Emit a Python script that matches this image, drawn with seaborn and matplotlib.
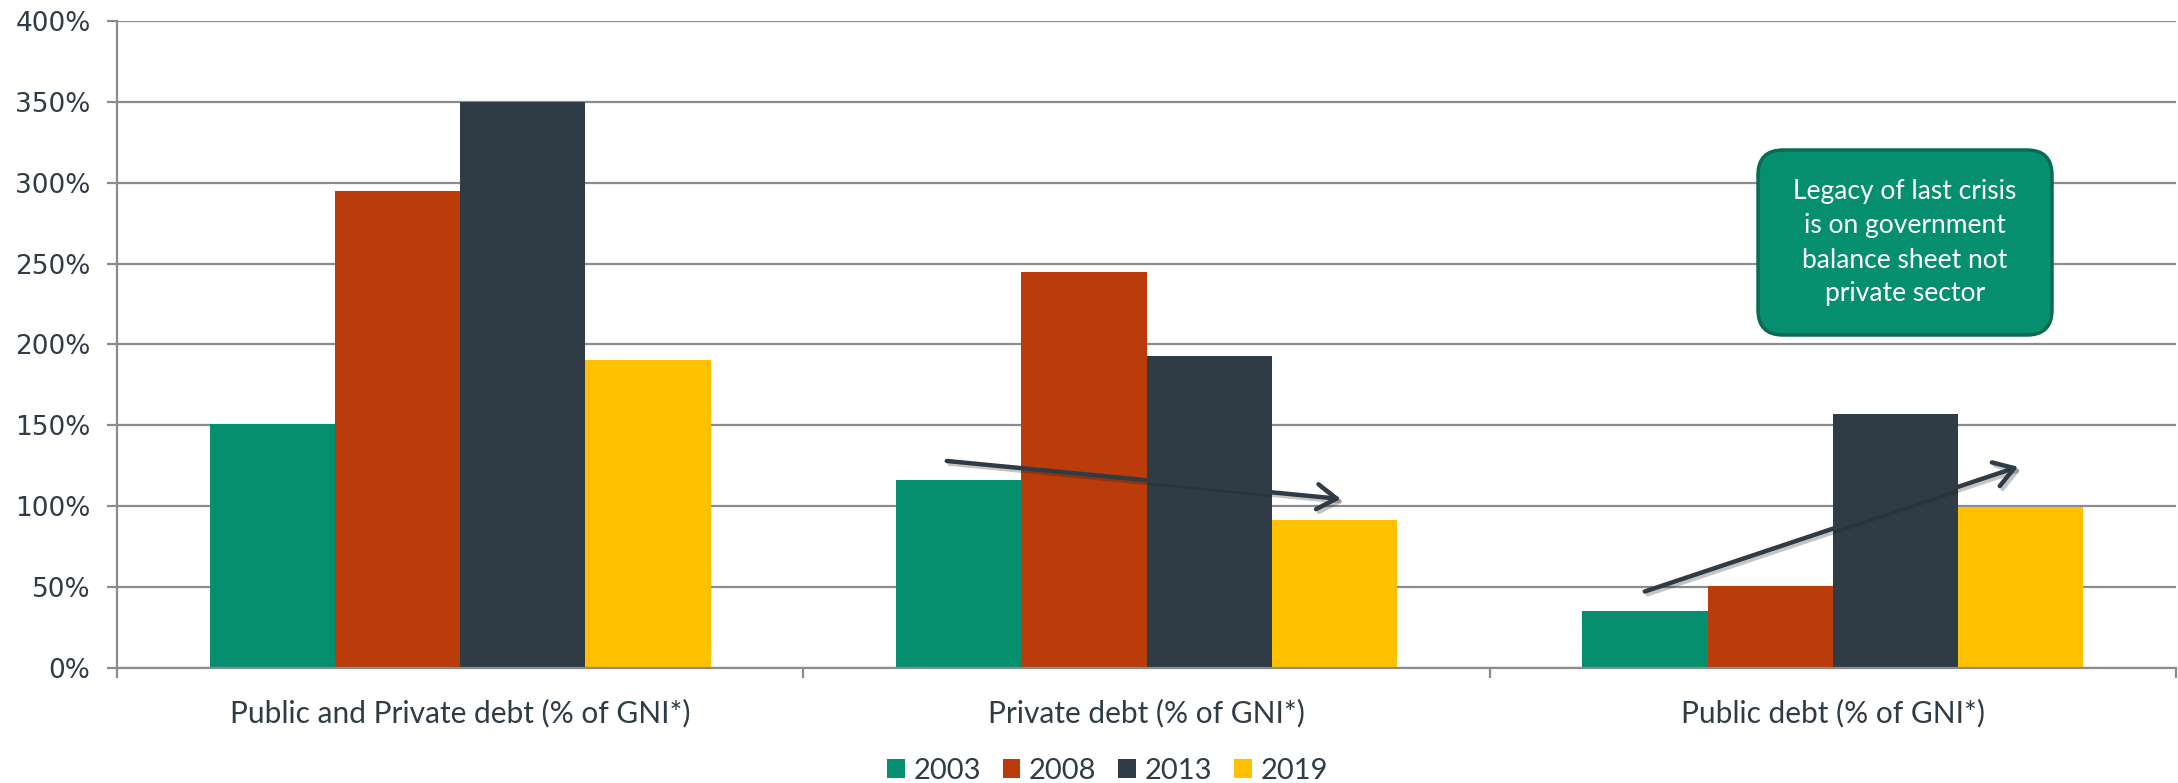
import matplotlib
matplotlib.use("Agg")
import matplotlib.pyplot as plt
import matplotlib.patheffects as pe
from matplotlib.patches import FancyBboxPatch
from matplotlib.ticker import FuncFormatter, FixedLocator
import seaborn as sns
import pandas as pd

# ---- data ----
categories = ["Public and Private debt (% of GNI*)",
              "Private debt (% of GNI*)",
              "Public debt (% of GNI*)"]
years = ["2003", "2008", "2013", "2019"]
v2003 = [151, 116, 35]
v2008 = [295, 245, 51]
v2013 = [350, 193, 157]
v2019 = [190.5, 91.5, 99.5]
yticks = [0, 50, 100, 150, 200, 250, 300, 350, 400]
colors = ["#068F6F", "#BA3C0A", "#2F3C46", "#FFC000"]
note = "Legacy of last crisis\nis on government\nbalance sheet not\nprivate sector"

rows = []
for yr, vals in zip(years, [v2003, v2008, v2013, v2019]):
    for c, v in zip(categories, vals):
        rows.append({"category": c, "year": yr, "value": v})
df = pd.DataFrame(rows)

sns.set_theme(style="white")
plt.rcParams["font.family"] = ["Lato", "DejaVu Sans"]
TXT = "#2F3C46"
GRID = "#8C8C8C"

W, H = 2178, 783
fig = plt.figure(figsize=(W / 100, H / 100), dpi=100)
ax = fig.add_axes([117 / W, 1 - 668 / H, (2176 - 117) / W, (668 - 21) / H])

sns.barplot(data=df, x="category", y="value", hue="year", order=categories,
            hue_order=years, palette=colors, saturation=1, width=0.73,
            linewidth=0, ax=ax, zorder=3)

ax.set_xlim(-0.5, 2.5)
ax.set_ylim(0, 400)
ax.set_yticks(yticks)
ax.yaxis.set_major_formatter(FuncFormatter(lambda v, p: f"{int(v)}%"))
ax.grid(axis="y", color=GRID, linewidth=1.6, zorder=0)
ax.set_axisbelow(True)
ax.set_xlabel("")
ax.set_ylabel("")

for s in ["top", "right"]:
    ax.spines[s].set_visible(False)
for s in ["left", "bottom"]:
    ax.spines[s].set_color(GRID)
    ax.spines[s].set_linewidth(1.6)
    ax.spines[s].set_zorder(4)

ax.tick_params(axis="y", which="major", left=True, length=7, width=1.6,
               color=GRID, pad=12, labelsize=19, labelcolor=TXT)
for lab in ax.get_yticklabels():
    lab.set_fontfamily(["DejaVu Sans"])
ax.tick_params(axis="x", which="major", length=0, pad=22, labelsize=21.5,
               labelcolor=TXT)
ax.xaxis.set_minor_locator(FixedLocator([-0.5, 0.5, 1.5, 2.5]))
ax.tick_params(axis="x", which="minor", bottom=True, length=7, width=1.6,
               color=GRID)

# legend
handles, labels = ax.get_legend_handles_labels()
ax.get_legend().remove()
fig.legend(handles, labels, loc="center", bbox_to_anchor=(0.5085, 1 - 771 / H),
           ncol=4, frameon=False, fontsize=21, labelcolor=TXT,
           handlelength=0.6, handleheight=0.6, handletextpad=0.3,
           columnspacing=0.75)

# arrows
shadow = [pe.SimpleLineShadow(offset=(2, -2), shadow_color="k", alpha=0.25),
          pe.Normal()]
for (x0, y0), (x1, y1) in [((0.709, 128), (1.283, 104.5)),
                           ((1.726, 47.3), (2.270, 124.4))]:
    a = ax.annotate("", xy=(x1, y1), xytext=(x0, y0), zorder=6,
                    arrowprops=dict(arrowstyle="->,head_length=0.7,head_width=0.45",
                                    color=TXT, lw=3.2, mutation_scale=20,
                                    shrinkA=0, shrinkB=0, capstyle="round"))
    a.arrow_patch.set_path_effects(shadow)

# annotation box
box = FancyBboxPatch((17.58, (H - 335) / 100), 2.94, 1.85,
                     boxstyle="round,pad=0,rounding_size=0.25",
                     transform=fig.dpi_scale_trans, facecolor="#068F6F",
                     edgecolor="#0A6B53", linewidth=2.5, zorder=10)
fig.patches.append(box)
fig.text(19.05, (H - 243) / 100, note, transform=fig.dpi_scale_trans,
         ha="center", va="center", color="white", fontsize=19,
         linespacing=1.45, zorder=11)

fig.savefig("out.png", dpi=100)
